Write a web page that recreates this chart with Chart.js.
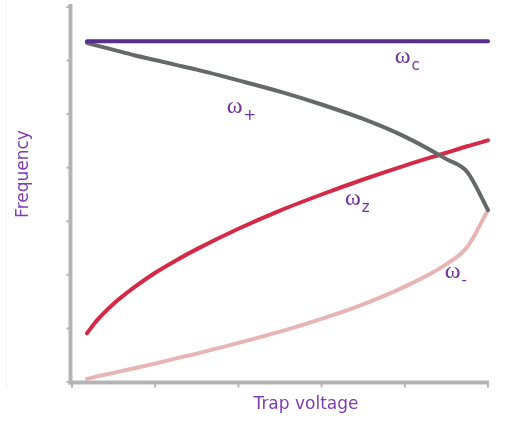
<!DOCTYPE html>
<html>
<head>
<meta charset="utf-8">
<script src="https://cdn.jsdelivr.net/npm/chart.js@4.4.1/dist/chart.umd.min.js"></script>
<style>
  html, body { margin: 0; padding: 0; background: #ffffff; }
  #wrap { width: 508px; height: 422px; position: relative; }
</style>
</head>
<body>
<div id="wrap"><canvas id="c" width="508" height="422"></canvas></div>
<script>
// ---- data ----
const voltage    = [0.18, 0.3, 0.5, 0.75, 1, 1.25, 1.5, 2, 2.5, 3, 3.5, 4, 4.5, 4.75, 5];
const omegaC     = [6.36, 6.36, 6.36, 6.36, 6.36, 6.36, 6.36, 6.36, 6.36, 6.36, 6.36, 6.36, 6.36, 6.36, 6.36];
const omegaPlus  = [6.33, 6.28, 6.20, 6.10, 6.01, 5.92, 5.83, 5.63, 5.42, 5.18, 4.91, 4.58, 4.16, 3.92, 3.21];
const omegaZ     = [0.91, 1.15, 1.46, 1.77, 2.04, 2.27, 2.48, 2.86, 3.20, 3.50, 3.78, 4.04, 4.28, 4.40, 4.51];
const omegaMinus = [0.056, 0.106, 0.17, 0.257, 0.345, 0.44, 0.53, 0.73, 0.94, 1.18, 1.45, 1.78, 2.20, 2.52, 3.21];
const xTicks = [0, 1, 2, 3, 4, 5];
const yTicks = [0, 1, 2, 3, 4, 5, 6, 7];
const xTitle = "Trap voltage";
const yTitle = "Frequency";
// curve labels: [main, subscript, x, y] in data units (baseline-left of ω)
const curveLabels = [
  ["ω", "c", 3.88, 5.95],
  ["ω", "+", 1.86, 5.02],
  ["ω", "z", 3.28, 3.30],
  ["ω", "-", 4.48, 1.95]
];

const pts = arr => arr.map((v, i) => ({ x: voltage[i], y: v }));

const AXIS = '#b3b5b4';
const LABEL = '#7030a0';
const TITLE = '#7d3cb5';

const overlay = {
  id: 'overlay',
  beforeDatasetsDraw(chart) {
    const ctx = chart.ctx;
    const xs = chart.scales.x, ys = chart.scales.y;
    const a = chart.chartArea;
    ctx.save();
    // faint slide frame line
    ctx.strokeStyle = '#f3f3f3';
    ctx.lineWidth = 1;
    ctx.beginPath(); ctx.moveTo(6.5, 0); ctx.lineTo(6.5, 388); ctx.stroke();
    // axes
    ctx.strokeStyle = AXIS;
    ctx.lineWidth = 4;
    ctx.lineCap = 'butt';
    const ax = a.left - 1.5;
    const ay = ys.getPixelForValue(0) + 0.5;
    ctx.beginPath();
    ctx.moveTo(ax, ys.getPixelForValue(7) - 3);
    ctx.lineTo(ax, ay + 2);
    ctx.stroke();
    ctx.beginPath();
    ctx.moveTo(ax - 2, ay);
    ctx.lineTo(xs.getPixelForValue(5) + 1, ay);
    ctx.stroke();
    // ticks
    ctx.lineWidth = 2;
    yTicks.forEach(t => {
      const y = ys.getPixelForValue(t);
      ctx.beginPath(); ctx.moveTo(ax - 4, y); ctx.lineTo(ax, y); ctx.stroke();
    });
    xTicks.forEach(t => {
      const x = xs.getPixelForValue(t);
      ctx.beginPath(); ctx.moveTo(x, ay); ctx.lineTo(x, ay + 5); ctx.stroke();
    });
    ctx.restore();
  },
  afterDatasetsDraw(chart) {
    const ctx = chart.ctx;
    const xs = chart.scales.x, ys = chart.scales.y;
    ctx.save();
    // axis titles
    ctx.fillStyle = TITLE;
    ctx.font = '17px "DejaVu Sans", Verdana, sans-serif';
    ctx.textAlign = 'center';
    ctx.textBaseline = 'middle';
    ctx.fillText(xTitle, 306, 405);
    ctx.translate(24, 174);
    ctx.rotate(-Math.PI / 2);
    ctx.fillText(yTitle, 0, 0);
    ctx.restore();
    // curve labels
    ctx.save();
    ctx.fillStyle = LABEL;
    ctx.textAlign = 'left';
    ctx.textBaseline = 'alphabetic';
    curveLabels.forEach(([m, s, u, v]) => {
      const x = xs.getPixelForValue(u), y = ys.getPixelForValue(v);
      ctx.font = '24px "Liberation Serif", "DejaVu Serif", serif';
      ctx.fillText(m, x, y);
      const w = ctx.measureText(m).width;
      ctx.font = '15px "DejaVu Sans", sans-serif';
      ctx.fillText(s, x + w + 1, y + 7);
    });
    ctx.restore();
  }
};

const ds = (data, color, order) => ({
  data: pts(data),
  borderColor: color,
  borderWidth: 4,
  pointRadius: 0,
  fill: false,
  cubicInterpolationMode: 'monotone',
  borderCapStyle: 'round',
  borderJoinStyle: 'round',
  clip: false,
  order: order
});

new Chart(document.getElementById('c'), {
  type: 'line',
  data: {
    datasets: [
      ds(omegaC, '#5a2c8c', 0),
      ds(omegaPlus, '#656967', 1),
      ds(omegaZ, '#d42a45', 2),
      ds(omegaMinus, '#e8b5b5', 3)
    ]
  },
  options: {
    responsive: false,
    animation: false,
    devicePixelRatio: 1,
    layout: { padding: { left: 72, right: 20, top: 7, bottom: 40 } },
    plugins: { legend: { display: false }, tooltip: { enabled: false }, title: { display: false } },
    scales: {
      x: { type: 'linear', min: 0, max: 5, display: false },
      y: { type: 'linear', min: 0, max: 7, display: false }
    }
  },
  plugins: [overlay]
});
</script>
</body>
</html>
